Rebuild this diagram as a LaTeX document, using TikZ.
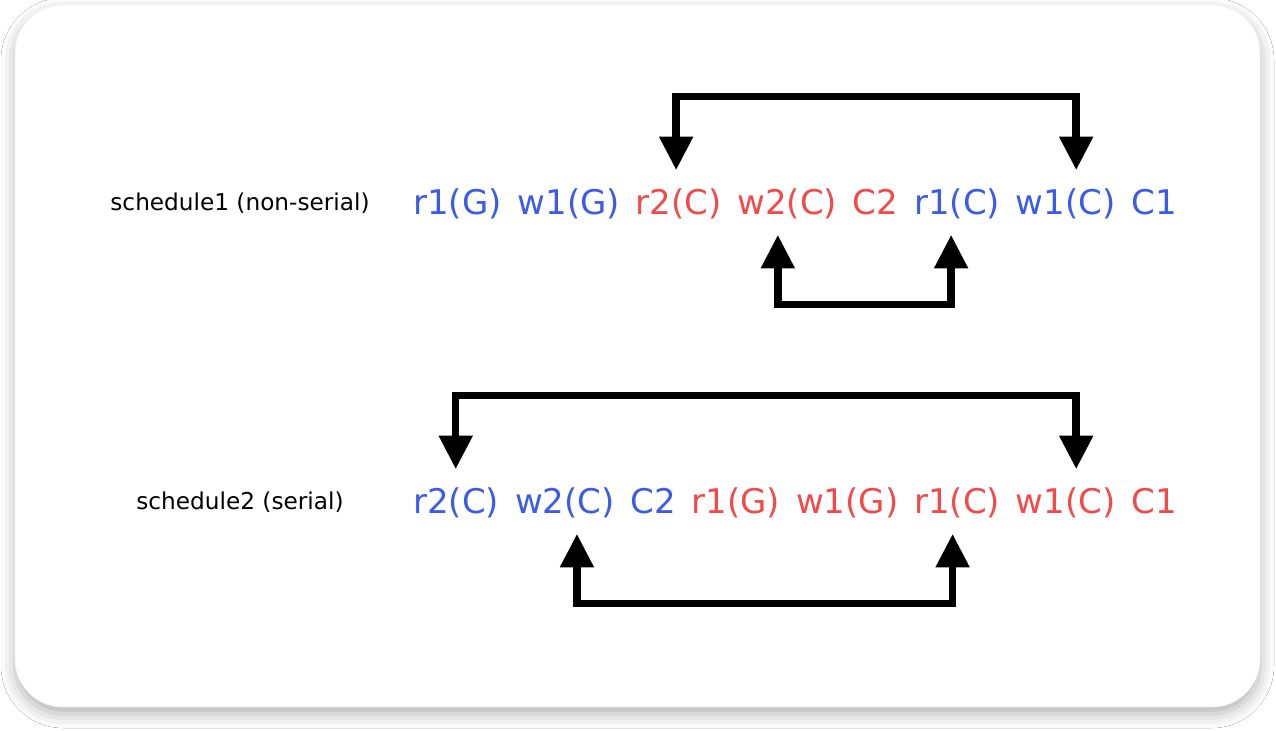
\documentclass[tikz,border=0pt]{standalone}
\usepackage{fontspec}
\setmainfont{DejaVu Sans}
\usepackage{tikz}
\usetikzlibrary{arrows.meta,shadows.blur,positioning}
\definecolor{tblue}{HTML}{3D5CE6}
\definecolor{tred}{HTML}{F24A4A}

\begin{document}
\begin{tikzpicture}[x=0.5pt,y=-0.5pt,
  tok/.style={inner sep=0pt,text height=12.5pt,text depth=0pt,font=\fontsize{17}{20}\selectfont},
  tb/.style={tok,text=tblue},
  tr/.style={tok,text=tred},
  sched/.style={inner sep=0pt,anchor=base,font=\fontsize{11.6}{14}\selectfont},
  link/.style={{Triangle[width=17pt,length=16.5pt,line width=1pt,fill=black]}-{Triangle[width=17pt,length=16.5pt,line width=1pt,fill=black]},line width=3.75pt}]

\fill[white] (0,0) rectangle (1276,731);
\path[fill=white,draw=black!5,rounded corners=24pt,
  blur shadow={shadow xshift=0pt,shadow yshift=-3.5pt,shadow blur radius=7pt,shadow opacity=30}]
  (15,5) rectangle (1260,707);

%schedule 1
\node[sched] (lab1) at (240,211) {schedule1 (non-serial)};
\node[tb,anchor=base west] (s1r1G) at (413,215) {r1(G)};
\node[tb,base right=7.5pt of s1r1G] (s1w1G) {w1(G)};
\node[tr,base right=7.5pt of s1w1G] (s1r2C) {r2(C)};
\node[tr,base right=7.5pt of s1r2C] (s1w2C) {w2(C)};
\node[tr,base right=7.5pt of s1w2C] (s1C2) {C2};
\node[tb,base right=7.5pt of s1C2] (s1r1C) {r1(C)};
\node[tb,base right=7.5pt of s1r1C] (s1w1C) {w1(C)};
\node[tb,base right=7.5pt of s1w1C] (s1C1) {C1};

\draw[link] ([xshift=-1.3pt,yshift=10pt]s1r2C.north) -- ++(0,-73) -| ([xshift=5.25pt,yshift=10pt]s1w1C.north);
\draw[link] ([xshift=-4.75pt,yshift=-10pt]s1w2C.south) -- ++(0,69) -| ([xshift=-3pt,yshift=-10pt]s1r1C.south);

%schedule 2
\node[sched] (lab2) at (240,510) {schedule2 (serial)};
\node[tb,anchor=base west] (s2r2C) at (413,514) {r2(C)};
\node[tb,base right=7.5pt of s2r2C] (s2w2C) {w2(C)};
\node[tb,base right=7.5pt of s2w2C] (s2C2) {C2};
\node[tr,base right=7.5pt of s2C2] (s2r1G) {r1(G)};
\node[tr,base right=7.5pt of s2r1G] (s2w1G) {w1(G)};
\node[tr,base right=7.5pt of s2w1G] (s2r1C) {r1(C)};
\node[tr,base right=7.5pt of s2r1C] (s2w1C) {w1(C)};
\node[tr,base right=7.5pt of s2w1C] (s2C1) {C1};

\draw[link] ([xshift=-0.3pt,yshift=10pt]s2r2C.north) -- ++(0,-73) -| ([xshift=5.25pt,yshift=10pt]s2w1C.north);
\draw[link] ([xshift=6pt,yshift=-10pt]s2w2C.south) -- ++(0,69) -| ([xshift=-2.25pt,yshift=-10pt]s2r1C.south);

\end{tikzpicture}
\end{document}
